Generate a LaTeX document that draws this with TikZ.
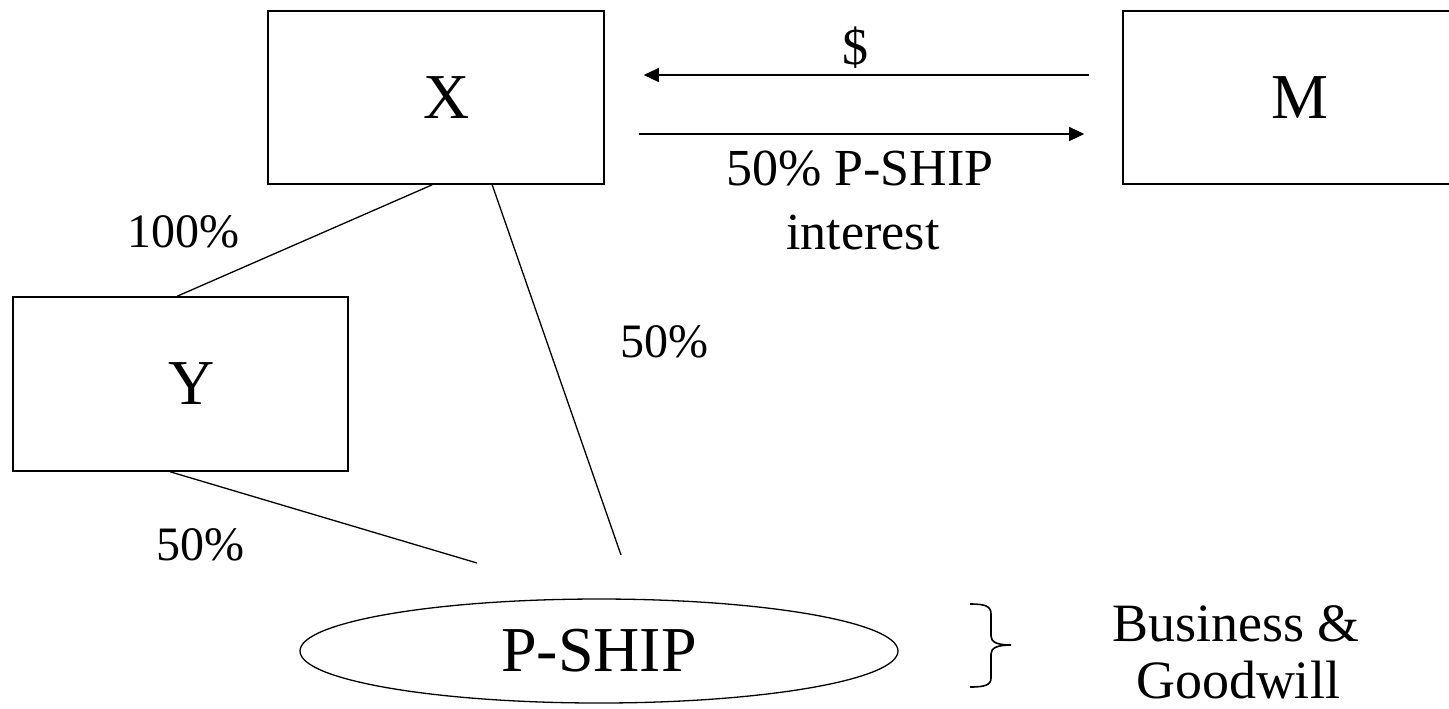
\documentclass[tikz,border=0pt]{standalone}
\usepackage{fontspec}
\setmainfont{Liberation Serif}
\usetikzlibrary{shapes.geometric,arrows.meta,calc}
\begin{document}
\begin{tikzpicture}[x=0.5pt,y=-0.5pt,
  bigfont/.style={font=\fontsize{32}{38}\selectfont},
  midfont/.style={font=\fontsize{26}{31}\selectfont},
  pctfont/.style={font=\fontsize{24}{29}\selectfont},
  entitybox/.style={draw,line width=0.8pt,rectangle,inner sep=0pt,bigfont},
  pship/.style={draw,line width=0.65pt,ellipse,inner sep=0pt,bigfont,minimum width=299pt,minimum height=52pt},
  conn/.style={line width=0.65pt},
  flow/.style={line width=0.65pt,-{Triangle[length=7.5pt,width=7pt]}},
  lbl/.style={anchor=base,inner sep=0pt}]
\useasboundingbox (0,0) rectangle (1449,708);
\clip (0,0) rectangle (1449,708);
\node[entitybox,minimum width=168pt,minimum height=86.5pt] (X) at (436,97.5) {\hspace*{11pt}X};
\node[entitybox,minimum width=177pt,minimum height=86.5pt] (M) at (1300,97.5) {M};
\node[entitybox,minimum width=167.5pt,minimum height=87pt] (Y) at (180.5,384) {\hspace*{11.5pt}Y};
\node[pship] (P) at (599,651) {P-SHIP};
\coordinate (xpend) at (621,555);
\coordinate (ypend) at (477,563);
\draw[conn] ($(X.south west)+(165,0)$) -- ($(Y.north west)+(165,0)$);
\draw[conn] ($(X.south west)+(225,0)$) -- (xpend);
\draw[conn] ($(Y.south west)+(158,0)$) -- (ypend);
\draw[flow,shorten <=16.5pt,shorten >=19.5pt] ([yshift=11.25pt]M.west) -- ([yshift=11.25pt]X.east);
\draw[flow,shorten <=17pt,shorten >=19pt] ([yshift=-18.25pt]X.east) -- ([yshift=-18.25pt]M.west);
\node[lbl,midfont] (dollar) at (855,64) {\$};
\node[lbl,midfont] (int1) at (860,185) {50\% P-SHIP};
\node[lbl,midfont] (int2) at (863,249) {interest};
\node[lbl,pctfont] (p100) at (183,247) {100\%};
\node[lbl,pctfont] (p50a) at (664,357) {50\%};
\node[lbl,pctfont] (p50b) at (200,560) {50\%};
\node[lbl,font=\fontsize{27}{32}\selectfont] (bg1) at (1236,641) {Business \&};
\node[lbl,font=\fontsize{27}{32}\selectfont] (bg2) at (1238,698) {Goodwill};
\draw[line width=0.8pt] (970,604) .. controls (985,604) and (991,606) .. (991,614) -- (991,636)
  .. controls (991,642) and (997,645) .. (1011,645)
  .. controls (997,645) and (991,648) .. (991,654) -- (991,678)
  .. controls (991,685) and (985,687) .. (970,687);
\end{tikzpicture}
\end{document}
